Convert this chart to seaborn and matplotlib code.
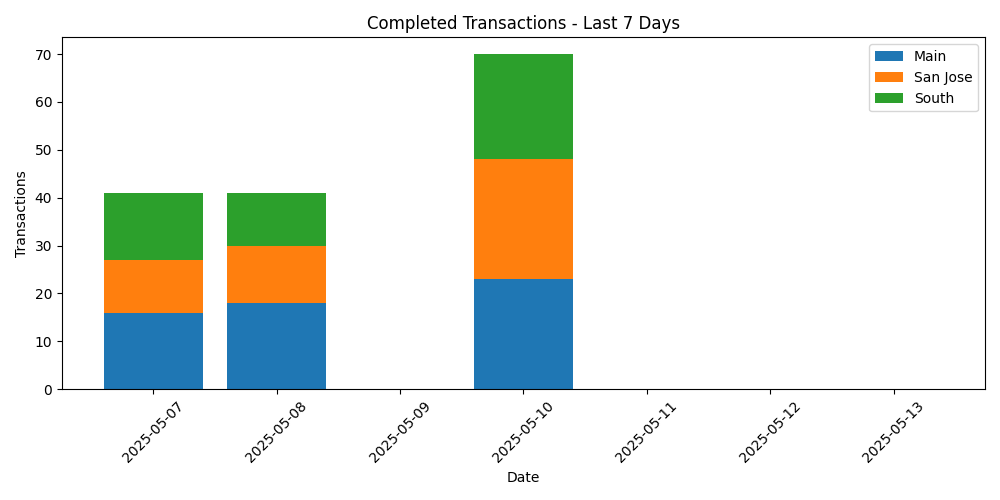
import numpy as np
import matplotlib
matplotlib.use("Agg")
import matplotlib.pyplot as plt
import seaborn as sns

dates = ["2025-05-07", "2025-05-08", "2025-05-09", "2025-05-10",
         "2025-05-11", "2025-05-12", "2025-05-13"]
main = [16, 18, 0, 23, 0, 0, 0]
san_jose = [11, 12, 0, 25, 0, 0, 0]
south = [14, 11, 0, 22, 0, 0, 0]

colors = sns.color_palette("tab10", 3)

fig, ax = plt.subplots(figsize=(10, 5), dpi=100)
bottom = np.zeros(len(dates))
for name, vals, c in [("Main", main, colors[0]), ("San Jose", san_jose, colors[1]),
                      ("South", south, colors[2])]:
    ax.bar(dates, vals, bottom=bottom, label=name, color=c)
    bottom += np.array(vals)

ax.set_title("Completed Transactions - Last 7 Days")
ax.set_xlabel("Date")
ax.set_ylabel("Transactions")
ax.legend()
plt.xticks(rotation=45)
plt.tight_layout()
plt.savefig("out.png")
